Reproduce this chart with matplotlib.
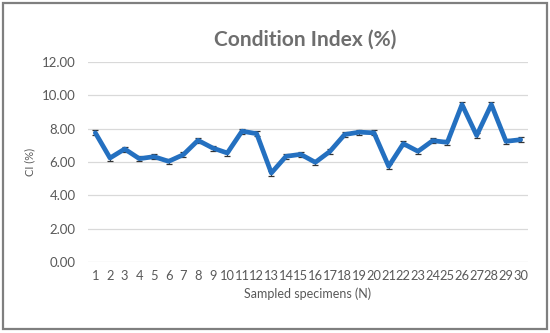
import matplotlib
matplotlib.use("Agg")
import matplotlib.pyplot as plt
from matplotlib.patches import Rectangle

specimens = [str(i) for i in range(1, 31)]
ci_values = [7.75, 6.24, 6.78, 6.20, 6.32, 6.04, 6.44, 7.30, 6.84, 6.54,
             7.85, 7.70, 5.34, 6.34, 6.46, 5.98, 6.64, 7.65, 7.79, 7.75,
             5.74, 7.10, 6.64, 7.28, 7.18, 9.45, 7.59, 9.45, 7.24, 7.34]
ci_errors = [0.15] * 30
yticks = [0, 2, 4, 6, 8, 10, 12]

plt.rcParams['font.family'] = ['Lato', 'DejaVu Sans']
fig = plt.figure(figsize=(5.5, 3.33), dpi=100)
ax = fig.add_axes([0.16, 0.2132, 0.80, 0.6006])

x = list(range(len(specimens)))
ax.errorbar(x, ci_values, yerr=ci_errors, color='#2470C0', linewidth=3.4,
            ecolor='#333333', elinewidth=0.8, capsize=2.5, capthick=0.9,
            solid_capstyle='round', solid_joinstyle='round', zorder=3)

ax.set_xlim(-0.5, len(specimens) - 0.5)
ax.set_ylim(0, 12)
ax.set_yticks(yticks)
ax.set_yticklabels([f"{v:.2f}" for v in yticks])
ax.set_xticks(x)
ax.set_xticklabels(specimens)
ax.yaxis.grid(True, color='#D9D9D9', linewidth=0.9)
ax.set_axisbelow(True)
for s in ax.spines.values():
    s.set_visible(False)
ax.tick_params(axis='y', length=0, labelsize=9.5, colors='#595959', pad=9)
ax.tick_params(axis='x', length=0, labelsize=9.3, colors='#595959', pad=6)

ax.set_xlabel('Sampled specimens (N)', fontsize=9, color='#595959', labelpad=4)
ax.set_ylabel('CI (%)', fontsize=8, color='#595959', labelpad=5)
fig.text(0.555, 0.88, 'Condition Index (%)', ha='center', va='center',
         fontsize=15, fontweight='bold', color='#6E6E6E')

fig.patches.append(Rectangle((0.006, 0.012), 0.988, 0.978, transform=fig.transFigure,
                             fill=False, edgecolor='#7F7F7F', linewidth=1.6))

fig.savefig('out.png', dpi=100)
